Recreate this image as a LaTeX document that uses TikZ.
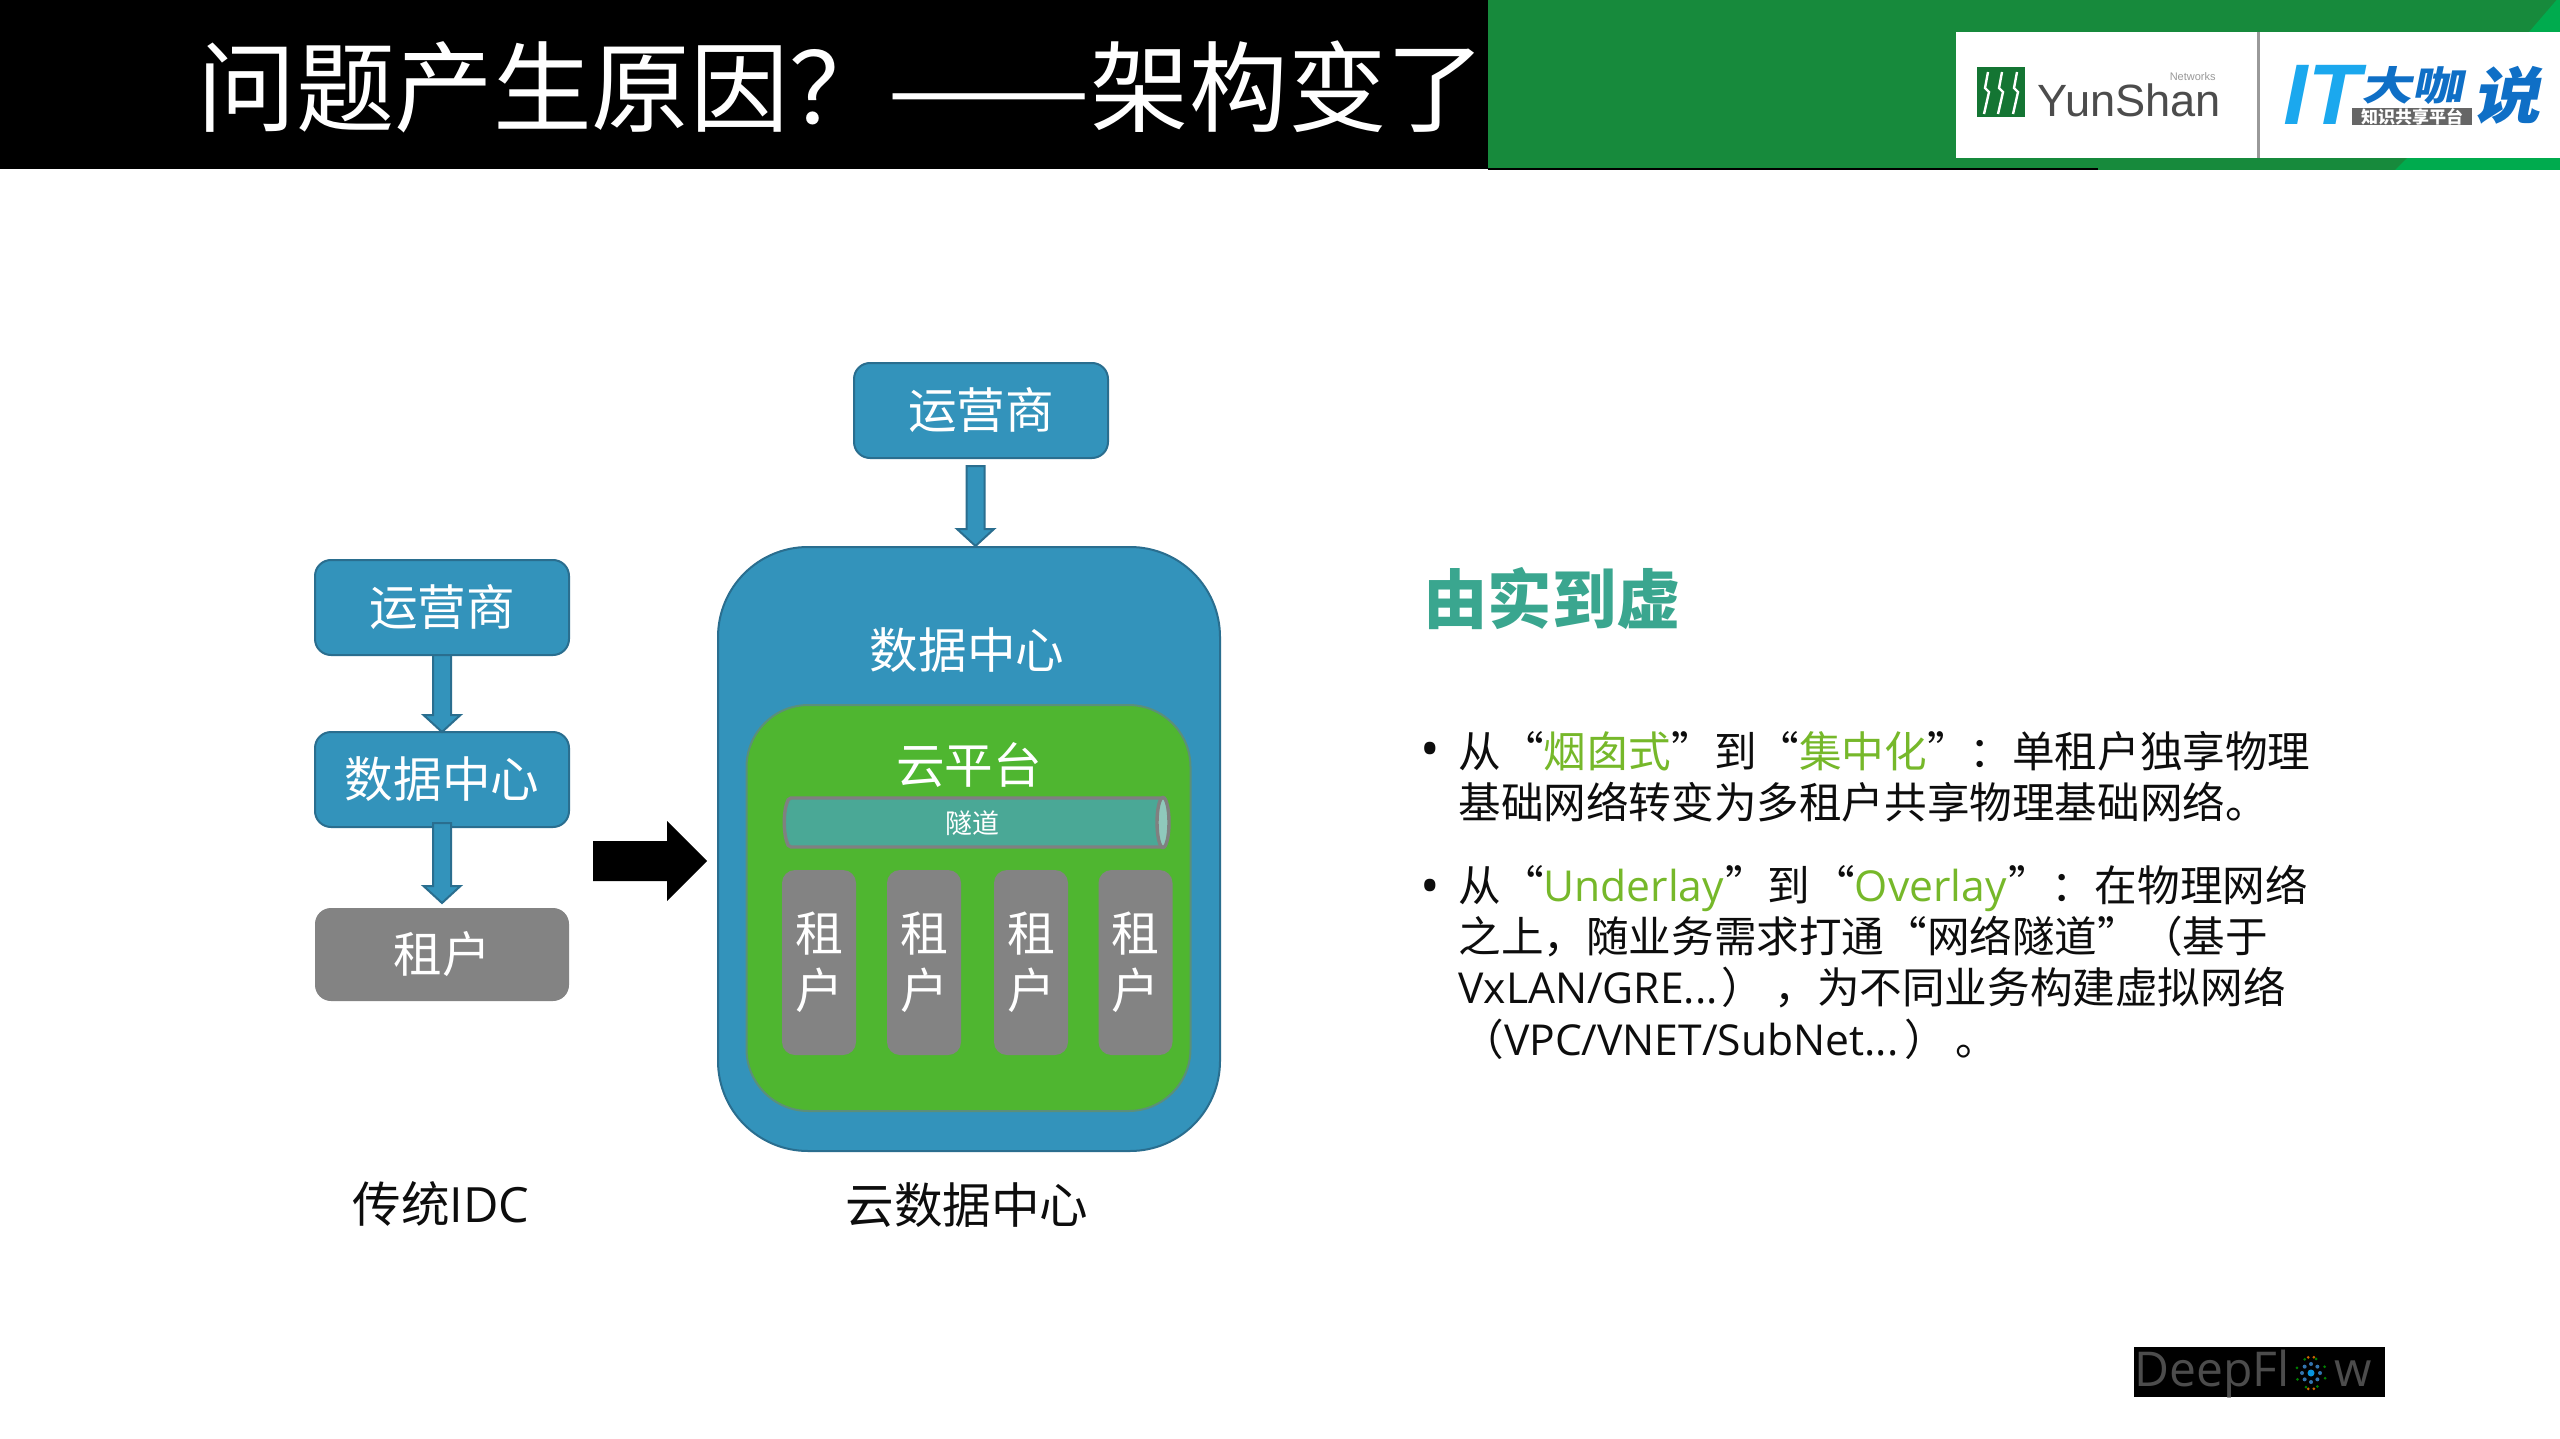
\documentclass[tikz,border=0pt]{standalone}
\usepackage{fontspec}
\setmainfont{Noto Sans CJK SC}
\newfontfamily\latinf{Open Sans}
\newfontfamily\logof{Liberation Sans}
\usetikzlibrary{calc,positioning}
\definecolor{bluefill}{HTML}{3393BB}
\definecolor{blueline}{HTML}{2A6E8F}
\definecolor{greenfill}{HTML}{4FB630}
\definecolor{greenline}{HTML}{5B8F7A}
\definecolor{greyfill}{HTML}{838383}
\definecolor{tunnelfill}{HTML}{4AA896}
\definecolor{tunnelcap}{HTML}{8FC9BC}
\definecolor{barGreen}{HTML}{178A3C}
\definecolor{barLight}{HTML}{00AB4E}
\definecolor{headGreen}{HTML}{3AA68F}
\definecolor{hiGreen}{HTML}{76B82A}
\definecolor{bodyText}{HTML}{0D0D0D}
\definecolor{logoCyan}{HTML}{1BA8EE}
\definecolor{logoBlue}{HTML}{0F6FC6}
\newcommand{\fpx}[1]{\fontsize{#1pt}{#1pt}\selectfont}
\newcommand{\hi}[1]{\textcolor{hiGreen}{#1}}
\newcommand{\lat}[1]{{\latinf #1}}
\newcommand{\blockarrow}[3][bluefill]{%
  \path let \p1=(#2), \p2=(#3) in
    coordinate (ta) at (\x1,\y1) coordinate (tb) at (\x2,\y2);
  \draw[#1] ($(ta)+(-9,0)$) -- ($(ta)+(9,0)$) -- ($(tb)+(9,-17)$) -- ($(tb)+(18.5,-17)$) -- (tb)
     -- ($(tb)+(-18.5,-17)$) -- ($(tb)+(-9,-17)$) -- cycle;}
\tikzset{
  x=0.5pt,y=-0.5pt,
  boxbase/.style={rounded corners=8pt,minimum width=127pt,minimum height=47.5pt,outer sep=0pt,inner sep=0pt,text=white,font=\fpx{24.3}},
  bluebox/.style={boxbase,fill=bluefill,draw=blueline,line width=1pt},
  greybox/.style={boxbase,fill=greyfill,minimum height=46.5pt},
  tenant/.style={rounded corners=6.5pt,fill=greyfill,minimum width=37pt,minimum height=92.5pt,inner sep=0pt,outer sep=0pt,text=white,font=\fpx{24},align=center},
  arrowblue/.style={fill=bluefill,draw=blueline,line width=1pt},
  caption/.style={font=\fpx{24.3},text=bodyText,inner sep=0pt},
  labelw/.style={font=\fpx{24.3},text=white,inner sep=0pt},
  bodyline/.style={anchor=west,font=\fpx{21.3},text=bodyText,inner sep=0pt},
}
\begin{document}
\begin{tikzpicture}
\useasboundingbox (0,0) rectangle (2560,1439);
\fill[white] (0,0) rectangle (2560,1439);
% header
\fill[barGreen] (1488,0) rectangle (2560,170);
\fill[barLight] (2529,32) -- (2560,-4) -- (2560,32) -- cycle;
\fill[barLight] (2395,170) -- (2407,158) -- (2560,158) -- (2560,170) -- cycle;
\fill[black] (0,0) rectangle (1488,169);
\fill[black] (1488,168) rectangle (2098,170);
\node[anchor=west,text=white,font=\fpx{49.3},inner sep=0pt] (title) at (197,87) {问题产生原因？\scalebox{1.23}[1]{——}架构变了};
% logos
\fill[white] (1956,32) rectangle (2560,158);
\fill[black!40] (2257,32) rectangle (2260,158);
\fill[barGreen!85!black] (1977,67) rectangle (2025,117);
\foreach \xx in {1988,2002,2017}{
  \draw[white,line width=1.2pt] (\xx,72) -- (\xx-3,88) -- (\xx+1,92) -- (\xx-4,114);
}
\node[anchor=base west,text=black!70,font=\logof\fpx{22.6},inner sep=0pt,text height=17pt,text depth=0pt] (yun) at (2037,117) {YunShan};
\node[anchor=base east,text=black!40,font=\logof\fpx{5.5},inner sep=0pt,text height=4pt,text depth=0pt] (net) at (2216,81) {Networks};
\node[anchor=west,text=logoCyan,font=\logof\bfseries\fpx{43},inner sep=0pt,xslant=0.2] (it) at (2285,95) {IT};
\node[anchor=base west,text=logoBlue,font=\bfseries\fpx{25.5},inner sep=0pt,xslant=0.2,yscale=0.78,text height=19pt,text depth=0pt] (da) at (2361,101) {大咖};
\node[anchor=west,text=logoBlue,font=\bfseries\fpx{34},inner sep=0pt,xslant=0.2,yscale=0.9] (shuo) at (2477,95) {说};
\fill[black!60] (2352,108) rectangle (2472,125);
\node[text=white,font=\bfseries\fpx{8.5},inner sep=0pt] (zs) at (2412,116.5) {知识共享平台};
% left stack
\node[bluebox] (opL) at (442,607.5) {运营商};
\node[bluebox] (dcL) at (442,779.5) {数据中心};
\node[greybox] (tnL) at (442,954.5) {租户};
\blockarrow[arrowblue]{opL.south}{dcL.north}
\coordinate (a2s) at ($(dcL.south)+(0,-4)$);
\coordinate (a2e) at ($(tnL.north)+(0,-5)$);
\blockarrow[arrowblue]{a2s}{a2e}
% black arrow
\coordinate (bkS) at (593,861);
\coordinate (bkE) at (707,861);
\fill[black] ($(bkS)+(0,-20)$) -- ($(bkS)+(74,-20)$) -- ($(bkS)+(74,-40)$) -- (bkE) -- ($(bkS)+(74,40)$) -- ($(bkS)+(74,20)$) -- ($(bkS)+(0,20)$) -- cycle;
% big box
\node[rounded corners=45pt,fill=bluefill,draw=blueline,line width=1pt,minimum width=251pt,minimum height=302pt,inner sep=0pt,outer sep=0pt] (cloud) at (969,849) {};
\node[labelw] (dcR) at (967,650) {数据中心};
\node[bluebox,minimum height=47.5pt] (opR) at (981,410.5) {运营商};
\coordinate (a3s) at (975.5,466);
\coordinate (a3e) at (975.5,546);
\blockarrow[arrowblue]{a3s}{a3e}
\node[rounded corners=31pt,fill=greenfill,draw=greenline,line width=1pt,minimum width=222pt,minimum height=203pt,inner sep=0pt,outer sep=0pt] (plat) at (968.5,908) {};
\node[labelw] (platL) at (969,765) {云平台};
% tunnel
\draw[fill=tunnelfill,draw=black!50,line width=1.7pt,rounded corners=1pt] (789,798) .. controls (783,810) and (783,835) .. (789,847) -- (1163,847) -- (1163,798) -- cycle;
\draw[fill=tunnelcap,draw=black!50,line width=1.7pt] (1163,822.5) ellipse [x radius=6,y radius=25];
\node[text=white,font=\fpx{13.5},inner sep=0pt] (tun) at (972,823) {隧道};
% tenants
\node[tenant] (t1) at (819,962.5) {租\\[4.5pt]户};
\node[tenant] (t2) at (924,962.5) {租\\[4.5pt]户};
\node[tenant] (t3) at (1031,962.5) {租\\[4.5pt]户};
\node[tenant] (t4) at (1135.5,962.5) {租\\[4.5pt]户};
% captions
\node[caption] (capL) at (441,1204) {传统\lat{IDC}};
\node[caption] (capR) at (967,1205) {云数据中心};
% right text
\node[anchor=west,text=headGreen,font=\bfseries\fpx{32.2},inner sep=0pt] (head) at (1423,599) {由实到虚};
\node[font=\latinf\fpx{26},text=bodyText,inner sep=0pt] (bu1) at (1430,755) {•};
\node[bodyline] (l1) at (1458,751) {从“\hi{烟囱式}”到“\hi{集中化}”：单租户独享物理};
\node[bodyline] (l2) at (1458,802) {基础网络转变为多租户共享物理基础网络。};
\node[font=\latinf\fpx{26},text=bodyText,inner sep=0pt] (bu2) at (1430,892) {•};
\node[bodyline] (l3) at (1458,888) {从“\hi{\lat{Underlay}}\hspace{0.5pt}”到\hspace{1pt}“\hi{\lat{Overlay}}\hspace{1pt}”：\hspace{0.5pt}在物理网络};
\node[bodyline] (l4) at (1458,937) {之上，随业务需求打通“网络隧道”（基于};
\node[bodyline] (l5) at (1458,988) {\lat{VxLAN/GRE...}\hspace{2pt}）\hspace{5pt}，为不同业务构建虚拟网络};
\node[bodyline] (l6) at (1461,1039) {（\lat{VPC/VNET/SubNet...}\hspace{3pt}）\hspace{4pt}。};
% deepflow
\fill[black] (2134,1347) rectangle (2385,1397);
\node[anchor=base west,text=black!70,font=\latinf\fpx{24},inner sep=0pt] (dp) at (2134,1386) {DeepFl};
\node[anchor=base east,text=black!70,font=\latinf\fpx{24},inner sep=0pt] (dw) at (2372,1386) {w};
\fill[cyan!80!blue] (2311,1373) circle (3.5);
\foreach \a in {0,45,...,315}{\fill[cyan!60!blue!80!black] ($(2311,1373)+(\a:9)$) circle (2);}
\foreach \a in {20,65,...,335}{\fill[green!50!black] ($(2311,1373)+(\a:15)$) circle (1.5);}
\foreach \a in {80,100,260,280}{\fill[orange!80!black] ($(2311,1373)+(\a:16)$) circle (1.5);}
\end{tikzpicture}
\end{document}
